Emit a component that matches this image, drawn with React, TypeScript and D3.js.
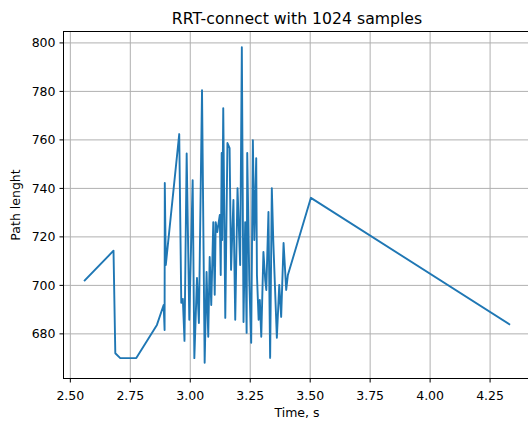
import React from "react";
import * as d3 from "d3";

const times: number[] = [
  2.560, 2.680, 2.6875, 2.708, 2.775, 2.861, 2.889, 2.893, 2.8938, 2.898,
  2.954, 2.9625, 2.969, 2.976, 2.985, 2.996, 3.010, 3.017, 3.028, 3.036,
  3.049, 3.060, 3.068, 3.075, 3.081, 3.0875, 3.096, 3.102, 3.106, 3.1125,
  3.123, 3.127, 3.131, 3.133, 3.1375, 3.146, 3.155, 3.164, 3.170, 3.180,
  3.1875, 3.197, 3.208, 3.215, 3.222, 3.229, 3.235, 3.2375, 3.246, 3.254,
  3.261, 3.267, 3.275, 3.278, 3.285, 3.290, 3.296, 3.305, 3.3125, 3.317,
  3.326, 3.333, 3.340, 3.346, 3.361, 3.371, 3.379, 3.389, 3.400, 3.407,
  3.503, 4.330,
];

const pathLengths: number[] = [
  702.0, 714.3, 672.0, 670.0, 670.0, 683.7, 691.9, 681.6, 742.2, 708.4,
  762.4, 692.8, 694.4, 677.1, 754.4, 685.8, 743.4, 670.0, 703.1, 684.5,
  780.5, 668.1, 705.5, 678.8, 711.7, 691.9, 726.1, 696.1, 726.1, 722.0,
  729.0, 704.3, 754.6, 718.7, 773.1, 686.6, 758.7, 756.6, 706.4, 735.2,
  685.8, 740.1, 708.4, 798.2, 684.9, 726.1, 680.4, 754.6, 702.2, 676.3,
  759.9, 718.7, 752.5, 704.3, 685.8, 694.0, 678.8, 713.8, 702.2, 698.1,
  730.3, 670.1, 740.1, 718.7, 678.4, 700.2, 687.0, 717.5, 698.1, 704.3,
  736.1, 684.0,
];

const xTicks: number[] = [2.5, 2.75, 3.0, 3.25, 3.5, 3.75, 4.0, 4.25];
const yTicks: number[] = [680, 700, 720, 740, 760, 780, 800];

const titleText = "RRT-connect with 1024 samples";
const xLabel = "Time, s";
const yLabel = "Path lenght";

const W = 528;
const H = 421;
const left = 63.5;
const right = 530.5;
const top = 31.5;
const bottom = 378.5;

export default function App() {
  const xExt = d3.extent(times) as [number, number];
  const yExt = d3.extent(pathLengths) as [number, number];
  const xm = (xExt[1] - xExt[0]) * 0.05;
  const ym = (yExt[1] - yExt[0]) * 0.05;
  const x = d3.scaleLinear().domain([xExt[0] - xm, xExt[1] + xm]).range([left, right]);
  const y = d3.scaleLinear().domain([yExt[0] - ym, yExt[1] + ym]).range([bottom, top]);

  const pts = times.map((t, i) => [t, pathLengths[i]] as [number, number]);
  const line = d3
    .line<[number, number]>()
    .x((d) => x(d[0]))
    .y((d) => y(d[1]));

  const font = "'DejaVu Sans', sans-serif";
  const tickFs = 12.5;

  return (
    <svg
      width={W}
      height={H}
      style={{ position: "absolute", left: 0, top: 0, background: "#fff" }}
      fontFamily={font}
    >
      <rect x={0} y={0} width={W} height={H} fill="#fff" />
      {xTicks.map((t) => (
        <line key={"gx" + t} x1={x(t)} x2={x(t)} y1={top} y2={bottom} stroke="#b0b0b0" strokeWidth={1} />
      ))}
      {yTicks.map((t) => (
        <line key={"gy" + t} x1={left} x2={right} y1={y(t)} y2={y(t)} stroke="#b0b0b0" strokeWidth={1} />
      ))}
      <path d={line(pts) || ""} fill="none" stroke="#1f77b4" strokeWidth={1.9} strokeLinejoin="round" strokeLinecap="square" />
      <rect x={left} y={top} width={right - left} height={bottom - top} fill="none" stroke="#000" strokeWidth={1} />
      {xTicks.map((t) => (
        <g key={"xt" + t}>
          <line x1={x(t)} x2={x(t)} y1={bottom} y2={bottom + 4} stroke="#000" strokeWidth={1} />
          <text x={x(t)} y={bottom + 21} textAnchor="middle" fontSize={tickFs} fill="#000">
            {t.toFixed(2)}
          </text>
        </g>
      ))}
      {yTicks.map((t) => (
        <g key={"yt" + t}>
          <line x1={left - 4} x2={left} y1={y(t)} y2={y(t)} stroke="#000" strokeWidth={1} />
          <text x={left - 8} y={y(t)} dy="0.36em" textAnchor="end" fontSize={tickFs} fill="#000">
            {t}
          </text>
        </g>
      ))}
      <text x={(left + right) / 2} y={24} textAnchor="middle" fontSize={15.7} fill="#000">
        {titleText}
      </text>
      <text x={(left + right) / 2} y={417} textAnchor="middle" fontSize={tickFs} fill="#000">
        {xLabel}
      </text>
      <text
        transform={`translate(20, ${(top + bottom) / 2}) rotate(-90)`}
        textAnchor="middle"
        fontSize={tickFs}
        fill="#000"
      >
        {yLabel}
      </text>
    </svg>
  );
}
